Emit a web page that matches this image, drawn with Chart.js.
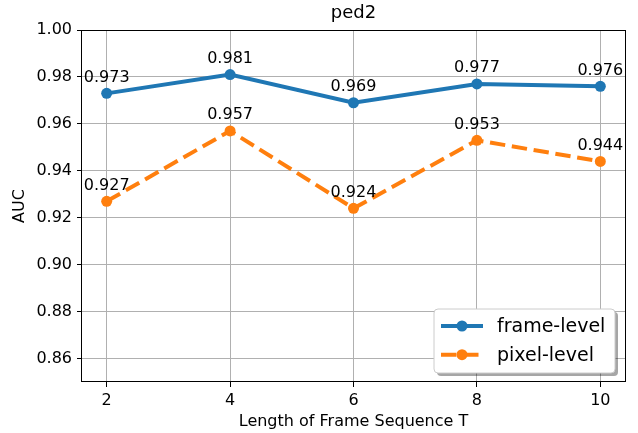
<!DOCTYPE html>
<html>
<head>
<meta charset="utf-8">
<script src="https://cdn.jsdelivr.net/npm/chart.js@4.4.0/dist/chart.umd.min.js"></script>
<style>
  body { margin: 0; background: #fff; }
  #wrap { width: 638px; height: 433px; }
</style>
</head>
<body>
<div id="wrap"><canvas id="ped2_chart" width="638" height="433"></canvas></div>
<script>
const seqLengths = [2, 4, 6, 8, 10];
const frameLevel = [0.973, 0.981, 0.969, 0.977, 0.976];
const pixelLevel = [0.927, 0.957, 0.924, 0.953, 0.944];
const xTicks = [2, 4, 6, 8, 10];
const yTicks = [0.86, 0.88, 0.90, 0.92, 0.94, 0.96, 0.98, 1.00];

const FONT = "'DejaVu Sans', sans-serif";
const BLUE = '#1f77b4';
const ORANGE = '#ff7f0e';

function toPoints(vals) {
    return seqLengths.map(function(x, i) { return { x: x, y: vals[i] }; });
}

// spines on all four sides
const frameBox = {
    id: 'frameBox',
    beforeDatasetsDraw(chart) {
        const a = chart.chartArea, ctx = chart.ctx;
        ctx.save();
        ctx.strokeStyle = '#000';
        ctx.lineWidth = 1;
        ctx.strokeRect(Math.round(a.left) - 0.5, Math.round(a.top) + 0.5,
            Math.round(a.right - a.left) + 1, Math.round(a.bottom - a.top) - 1);
        ctx.restore();
    }
};

// value labels above each point
const valueLabels = {
    id: 'valueLabels',
    afterDatasetsDraw(chart) {
        const ctx = chart.ctx;
        ctx.save();
        ctx.font = '16px ' + FONT;
        ctx.fillStyle = '#000';
        ctx.textAlign = 'center';
        ctx.textBaseline = 'alphabetic';
        chart.data.datasets.forEach(function(ds, i) {
            chart.getDatasetMeta(i).data.forEach(function(pt, j) {
                ctx.fillText(ds.data[j].y.toFixed(3), pt.x, pt.y - 11.5);
            });
        });
        ctx.restore();
    }
};

// matplotlib-like legend with shadow in the lower right
const boxLegend = {
    id: 'boxLegend',
    afterDraw(chart) {
        const a = chart.chartArea, ctx = chart.ctx;
        const w = 181, h = 64;
        const x = a.right - 10 - w, y = a.bottom - 9 - h;
        ctx.save();
        function rr(px, py) {
            ctx.beginPath();
            ctx.roundRect(px, py, w, h, 4);
        }
        rr(x + 3, y + 3);
        ctx.fillStyle = 'rgba(0,0,0,0.35)';
        ctx.fill();
        rr(x, y);
        ctx.fillStyle = '#fff';
        ctx.fill();
        ctx.strokeStyle = '#cccccc';
        ctx.lineWidth = 1;
        ctx.stroke();

        chart.data.datasets.forEach(function(ds, i) {
            const cy = y + 17 + i * 28.7;
            ctx.strokeStyle = ds.borderColor;
            ctx.lineWidth = 4;
            ctx.setLineDash(ds.borderDash || []);
            ctx.beginPath();
            ctx.moveTo(x + 7, cy);
            ctx.lineTo(x + 49, cy);
            ctx.stroke();
            ctx.setLineDash([]);
            ctx.beginPath();
            ctx.arc(x + 28, cy, 5.5, 0, Math.PI * 2);
            ctx.fillStyle = ds.borderColor;
            ctx.fill();
            ctx.fillStyle = '#000';
            ctx.font = '19px ' + FONT;
            ctx.textAlign = 'left';
            ctx.textBaseline = 'middle';
            ctx.fillText(ds.label, x + 63, cy + 1);
        });
        ctx.restore();
    }
};

const ctx = document.getElementById('ped2_chart').getContext('2d');
const myChart = new Chart(ctx, {
    type: 'line',
    data: {
        datasets: [{
            label: 'frame-level',
            data: toPoints(frameLevel),
            borderColor: BLUE,
            backgroundColor: BLUE,
            pointBackgroundColor: BLUE,
            borderWidth: 4,
            pointRadius: 5.5,
            pointBorderWidth: 0,
            tension: 0,
            fill: false
        }, {
            label: 'pixel-level',
            data: toPoints(pixelLevel),
            borderColor: ORANGE,
            backgroundColor: ORANGE,
            pointBackgroundColor: ORANGE,
            borderWidth: 4,
            borderDash: [15.4, 6.7],
            pointRadius: 5.5,
            pointBorderWidth: 0,
            tension: 0,
            fill: false
        }]
    },
    options: {
        responsive: false,
        animation: false,
        layout: { padding: { left: 6, right: 13, top: 0, bottom: 0 } },
        plugins: {
            legend: { display: false },
            tooltip: { enabled: false },
            title: {
                display: true,
                text: 'ped2',
                fullSize: false,
                color: '#000',
                font: { family: FONT, size: 18, weight: 'normal' },
                padding: { top: 3, bottom: 5.4 }
            }
        },
        scales: {
            x: {
                type: 'linear',
                min: 1.6,
                max: 10.4,
                afterBuildTicks: function(scale) {
                    scale.ticks = xTicks.map(function(v) { return { value: v }; });
                },
                afterFit: function(scale) { scale.height = 51; },
                border: { display: false },
                grid: { color: '#b0b0b0', lineWidth: 1, tickLength: 5, tickColor: '#000' },
                ticks: {
                    color: '#000',
                    padding: 4,
                    maxRotation: 0,
                    font: { family: FONT, size: 16 },
                    callback: function(v) { return String(v); }
                },
                title: {
                    display: true,
                    text: 'Length of Frame Sequence T',
                    color: '#000',
                    font: { family: FONT, size: 16 },
                    padding: { top: 0, bottom: 1.4 }
                }
            },
            y: {
                min: 0.85,
                max: 1.0,
                afterBuildTicks: function(scale) {
                    scale.ticks = yTicks.map(function(v) { return { value: v }; });
                },
                afterFit: function(scale) { scale.width = 76; },
                border: { display: false },
                grid: { color: '#b0b0b0', lineWidth: 1, tickLength: 5, tickColor: '#000' },
                ticks: {
                    color: '#000',
                    padding: 5,
                    font: { family: FONT, size: 16 },
                    callback: function(v) { return Number(v).toFixed(2); }
                },
                title: {
                    display: true,
                    text: 'AUC',
                    color: '#000',
                    font: { family: FONT, size: 16 },
                    padding: { top: 4, bottom: 0 }
                }
            }
        }
    },
    plugins: [frameBox, valueLabels, boxLegend]
});
</script>
</body>
</html>
